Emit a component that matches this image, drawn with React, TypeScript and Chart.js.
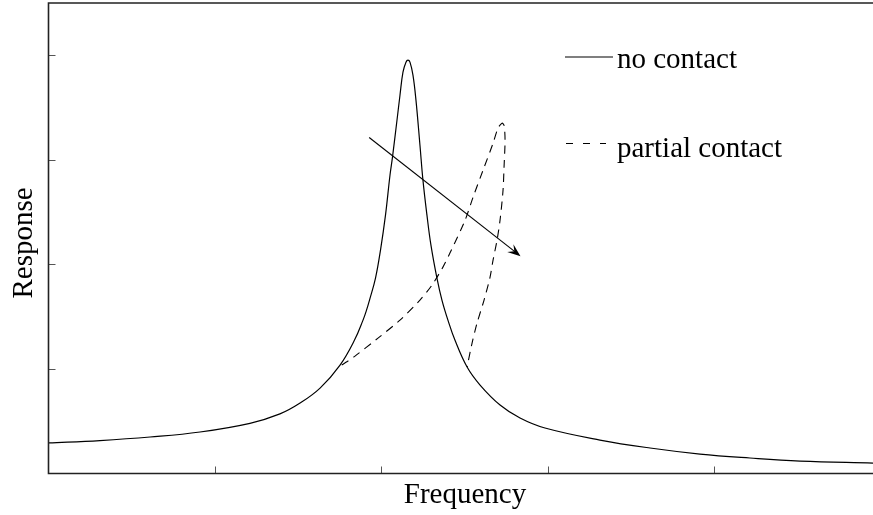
import React, { useEffect, useRef } from "react";
import { Chart, registerables } from "chart.js";

Chart.register(...registerables);

// ---- data ----
const seriesLabels = ["no contact", "partial contact"];

const noContactX = [
  0, 0.309, 0.61, 0.91, 1.21, 1.39, 1.511, 1.631, 1.751, 1.838, 1.889, 1.91, 1.928, 1.964, 1.994,
  2.024, 2.051, 2.066, 2.093, 2.111, 2.129, 2.147, 2.159, 2.171, 2.189, 2.207, 2.231, 2.249,
  2.273, 2.297, 2.333, 2.363, 2.399, 2.441, 2.514, 2.592, 2.712, 2.832, 2.982, 3.312, 3.613,
  3.913, 4.213, 4.514, 4.952,
];
const noContactY = [
  0.292, 0.315, 0.349, 0.397, 0.48, 0.57, 0.674, 0.817, 1.037, 1.276, 1.467, 1.562, 1.659, 1.869,
  2.137, 2.471, 2.853, 3.026, 3.379, 3.618, 3.838, 3.934, 3.953, 3.934, 3.81, 3.571, 3.14,
  2.806, 2.471, 2.184, 1.869, 1.659, 1.467, 1.276, 1.018, 0.846, 0.655, 0.531, 0.435, 0.32,
  0.244, 0.186, 0.148, 0.119, 0.1,
];

const partialX = [
  1.761, 1.841, 1.979, 2.111, 2.231, 2.303, 2.369, 2.411, 2.502, 2.55, 2.61, 2.67, 2.7, 2.724,
  2.736, 2.742, 2.736, 2.73, 2.712, 2.694, 2.67, 2.652, 2.616, 2.574, 2.544, 2.514,
];
const partialY = [
  1.037, 1.123, 1.295, 1.467, 1.659, 1.802, 1.974, 2.108, 2.423, 2.643, 2.901, 3.159, 3.303,
  3.351, 3.331, 3.188, 2.93, 2.71, 2.423, 2.232, 2.041, 1.878, 1.659, 1.439, 1.248, 1.018,
];

const xTicks = [1, 2, 3, 4];
const yTicks = [1, 2, 3, 4];
const xRange = [0, 4.952];
const yRange = [0, 4.5];

const arrowFrom = [1.926, 3.214];
const arrowTo = [2.835, 2.079];

const xTitle = "Frequency";
const yTitle = "Response";

const FONT = '29px "Liberation Serif", "Times New Roman", serif';

const decorPlugin = {
  id: "decor",
  afterDatasetsDraw(chart: any) {
    const { ctx, chartArea } = chart;
    const xs = chart.scales.x;
    const ys = chart.scales.y;
    const { left, right, top, bottom } = chartArea;
    ctx.save();

    // ticks (inward)
    ctx.strokeStyle = "#555";
    ctx.lineWidth = 1;
    ctx.beginPath();
    xTicks.forEach((v) => {
      const px = Math.round(xs.getPixelForValue(v)) + 0.5;
      ctx.moveTo(px, bottom);
      ctx.lineTo(px, bottom - 7);
    });
    yTicks.forEach((v) => {
      const py = Math.round(ys.getPixelForValue(v)) + 0.5;
      ctx.moveTo(left, py);
      ctx.lineTo(left + 7, py);
    });
    ctx.stroke();

    // axes box (top, left, bottom)
    ctx.strokeStyle = "#222";
    ctx.lineWidth = 1.6;
    ctx.beginPath();
    ctx.moveTo(right + 2, top);
    ctx.lineTo(left, top);
    ctx.lineTo(left, bottom);
    ctx.lineTo(right + 2, bottom);
    ctx.stroke();

    // arrow
    const x1 = xs.getPixelForValue(arrowFrom[0]);
    const y1 = ys.getPixelForValue(arrowFrom[1]);
    const x2 = xs.getPixelForValue(arrowTo[0]);
    const y2 = ys.getPixelForValue(arrowTo[1]);
    const ang = Math.atan2(y2 - y1, x2 - x1);
    const hl = 13;
    const hw = 5;
    ctx.strokeStyle = "#000";
    ctx.fillStyle = "#000";
    ctx.lineWidth = 1.1;
    ctx.beginPath();
    ctx.moveTo(x1, y1);
    ctx.lineTo(x2 - Math.cos(ang) * 6, y2 - Math.sin(ang) * 6);
    ctx.stroke();
    ctx.save();
    ctx.translate(x2, y2);
    ctx.rotate(ang);
    ctx.beginPath();
    ctx.moveTo(0, 0);
    ctx.lineTo(-hl, -hw);
    ctx.lineTo(-hl * 0.6, 0);
    ctx.lineTo(-hl, hw);
    ctx.closePath();
    ctx.fill();
    ctx.restore();

    // legend
    const ds = chart.data.datasets;
    const legendRows = [
      { lineY: 57, baseY: 68 },
      { lineY: 143.5, baseY: 157 },
    ];
    legendRows.forEach((row, i) => {
      ctx.strokeStyle = "#000";
      ctx.lineWidth = 1.1;
      ctx.setLineDash(i === 0 ? [] : [7, 10]);
      ctx.beginPath();
      ctx.moveTo(i === 0 ? 565 : 566, row.lineY);
      ctx.lineTo(i === 0 ? 613 : 606, row.lineY);
      ctx.stroke();
      ctx.setLineDash([]);
      ctx.fillStyle = "#000";
      ctx.font = FONT;
      ctx.textAlign = "left";
      ctx.textBaseline = "alphabetic";
      ctx.fillText(ds[i].label, 617, row.baseY);
    });

    // axis titles
    ctx.fillStyle = "#000";
    ctx.font = FONT;
    ctx.textAlign = "center";
    ctx.textBaseline = "alphabetic";
    ctx.fillText(xTitle, 465, 503);
    ctx.save();
    ctx.translate(32, 243);
    ctx.rotate(-Math.PI / 2);
    ctx.fillText(yTitle, 0, 0);
    ctx.restore();

    ctx.restore();
  },
};

export default function App() {
  const ref = useRef<HTMLCanvasElement | null>(null);

  useEffect(() => {
    if (!ref.current) return;
    const chart = new Chart(ref.current, {
      type: "scatter",
      data: {
        datasets: [
          {
            label: seriesLabels[0],
            data: noContactX.map((x, i) => ({ x, y: noContactY[i] })),
            showLine: true,
            borderColor: "#000",
            borderWidth: 1.2,
            pointRadius: 0,
            tension: 0.4,
          },
          {
            label: seriesLabels[1],
            data: partialX.map((x, i) => ({ x, y: partialY[i] })),
            showLine: true,
            borderColor: "#000",
            borderWidth: 1.1,
            borderDash: [8, 6],
            pointRadius: 0,
            tension: 0.3,
          },
        ],
      },
      options: {
        responsive: false,
        animation: false,
        devicePixelRatio: 1,
        layout: { padding: { left: 48.5, top: 3, right: 0, bottom: 41.5 } },
        plugins: { legend: { display: false }, tooltip: { enabled: false } },
        scales: {
          x: { type: "linear", min: xRange[0], max: xRange[1], display: false },
          y: { type: "linear", min: yRange[0], max: yRange[1], display: false },
        },
      },
      plugins: [decorPlugin],
    });
    return () => chart.destroy();
  }, []);

  return (
    <div style={{ position: "fixed", left: 0, top: 0, width: 873, height: 515, background: "#fff" }}>
      <canvas ref={ref} width={873} height={515} style={{ display: "block" }} />
    </div>
  );
}
